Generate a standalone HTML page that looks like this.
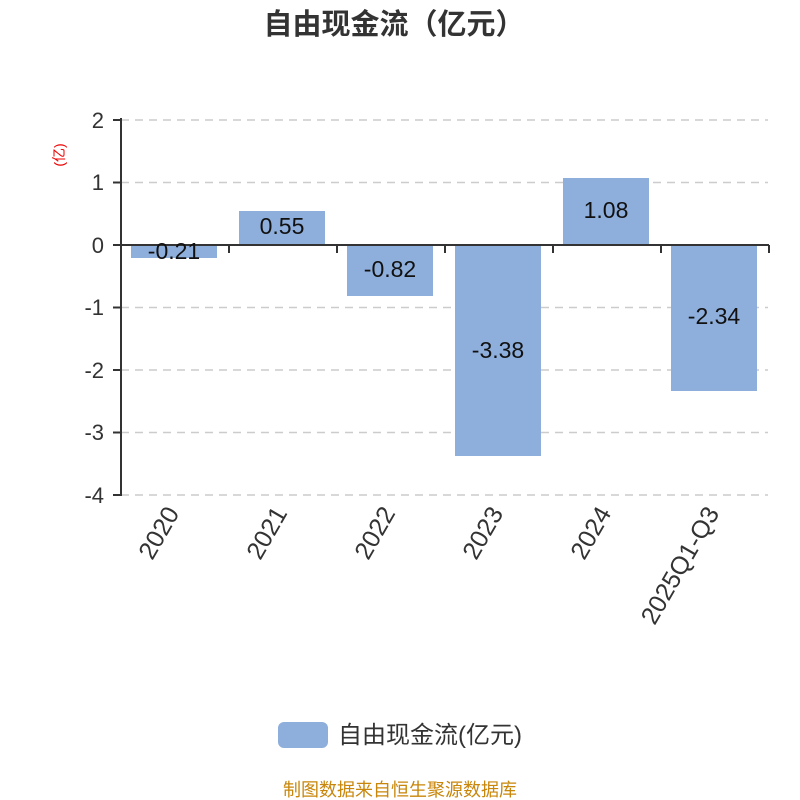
<!DOCTYPE html>
<html><head><meta charset="utf-8"><style>body{margin:0;background:#fff}svg{display:block}</style></head><body>
<svg width="800" height="800" xmlns="http://www.w3.org/2000/svg" font-family="'Liberation Sans','Noto Sans CJK SC',sans-serif">
<text x="394" y="34" text-anchor="middle" font-size="29" font-weight="bold" fill="#333">自由现金流（亿元）</text>
<text transform="translate(64,155) rotate(-90)" text-anchor="middle" font-size="14" fill="#e00">(亿)</text>
<g stroke="#ccc" stroke-dasharray="8,6" stroke-width="1.5">
<line x1="121" y1="120" x2="768" y2="120"/><line x1="121" y1="182.5" x2="768" y2="182.5"/>
<line x1="121" y1="307.5" x2="768" y2="307.5"/><line x1="121" y1="370" x2="768" y2="370"/>
<line x1="121" y1="432.5" x2="768" y2="432.5"/><line x1="121" y1="495" x2="768" y2="495"/>
</g>
<g fill="#8eaedb">
<rect x="131" y="245" width="86" height="13"/>
<rect x="239" y="211" width="86" height="34"/>
<rect x="347" y="245" width="86" height="51"/>
<rect x="455" y="245" width="86" height="211"/>
<rect x="563" y="178" width="86" height="67"/>
<rect x="671" y="245" width="86" height="146"/>
</g>
<g stroke="#333" stroke-width="2">
<line x1="121" y1="118" x2="121" y2="496"/>
<line x1="121" y1="245" x2="769" y2="245"/>
<line x1="113" y1="120" x2="121" y2="120"/><line x1="113" y1="182.5" x2="121" y2="182.5"/>
<line x1="113" y1="245" x2="121" y2="245"/><line x1="113" y1="307.5" x2="121" y2="307.5"/>
<line x1="113" y1="370" x2="121" y2="370"/><line x1="113" y1="432.5" x2="121" y2="432.5"/>
<line x1="113" y1="495" x2="121" y2="495"/>
<line x1="229" y1="245" x2="229" y2="253"/><line x1="337" y1="245" x2="337" y2="253"/>
<line x1="445" y1="245" x2="445" y2="253"/><line x1="553" y1="245" x2="553" y2="253"/>
<line x1="661" y1="245" x2="661" y2="253"/><line x1="769" y1="245" x2="769" y2="253"/>
</g>
<g font-size="22" fill="#333" text-anchor="end">
<text x="104" y="128">2</text><text x="104" y="190">1</text><text x="104" y="253">0</text>
<text x="104" y="315">-1</text><text x="104" y="378">-2</text><text x="104" y="440">-3</text><text x="104" y="503">-4</text>
</g>
<g font-size="23" fill="#111" text-anchor="middle">
<text x="174" y="259">-0.21</text><text x="282" y="234">0.55</text><text x="390" y="277">-0.82</text>
<text x="498" y="358">-3.38</text><text x="606" y="218">1.08</text><text x="714" y="324">-2.34</text>
</g>
<g font-size="25" fill="#333" text-anchor="end">
<text transform="translate(180,513) rotate(-60)">2020</text>
<text transform="translate(288,513) rotate(-60)">2021</text>
<text transform="translate(396,513) rotate(-60)">2022</text>
<text transform="translate(504,513) rotate(-60)">2023</text>
<text transform="translate(612,513) rotate(-60)">2024</text>
<text transform="translate(720,513) rotate(-60)">2025Q1-Q3</text>
</g>
<rect x="278" y="722" width="50" height="26" rx="6" fill="#8eaedb"/>
<text x="338" y="743" font-size="24" fill="#333">自由现金流(亿元)</text>
<text x="400" y="796" text-anchor="middle" font-size="18" fill="#c8860a">制图数据来自恒生聚源数据库</text>
</svg>
</body></html>
